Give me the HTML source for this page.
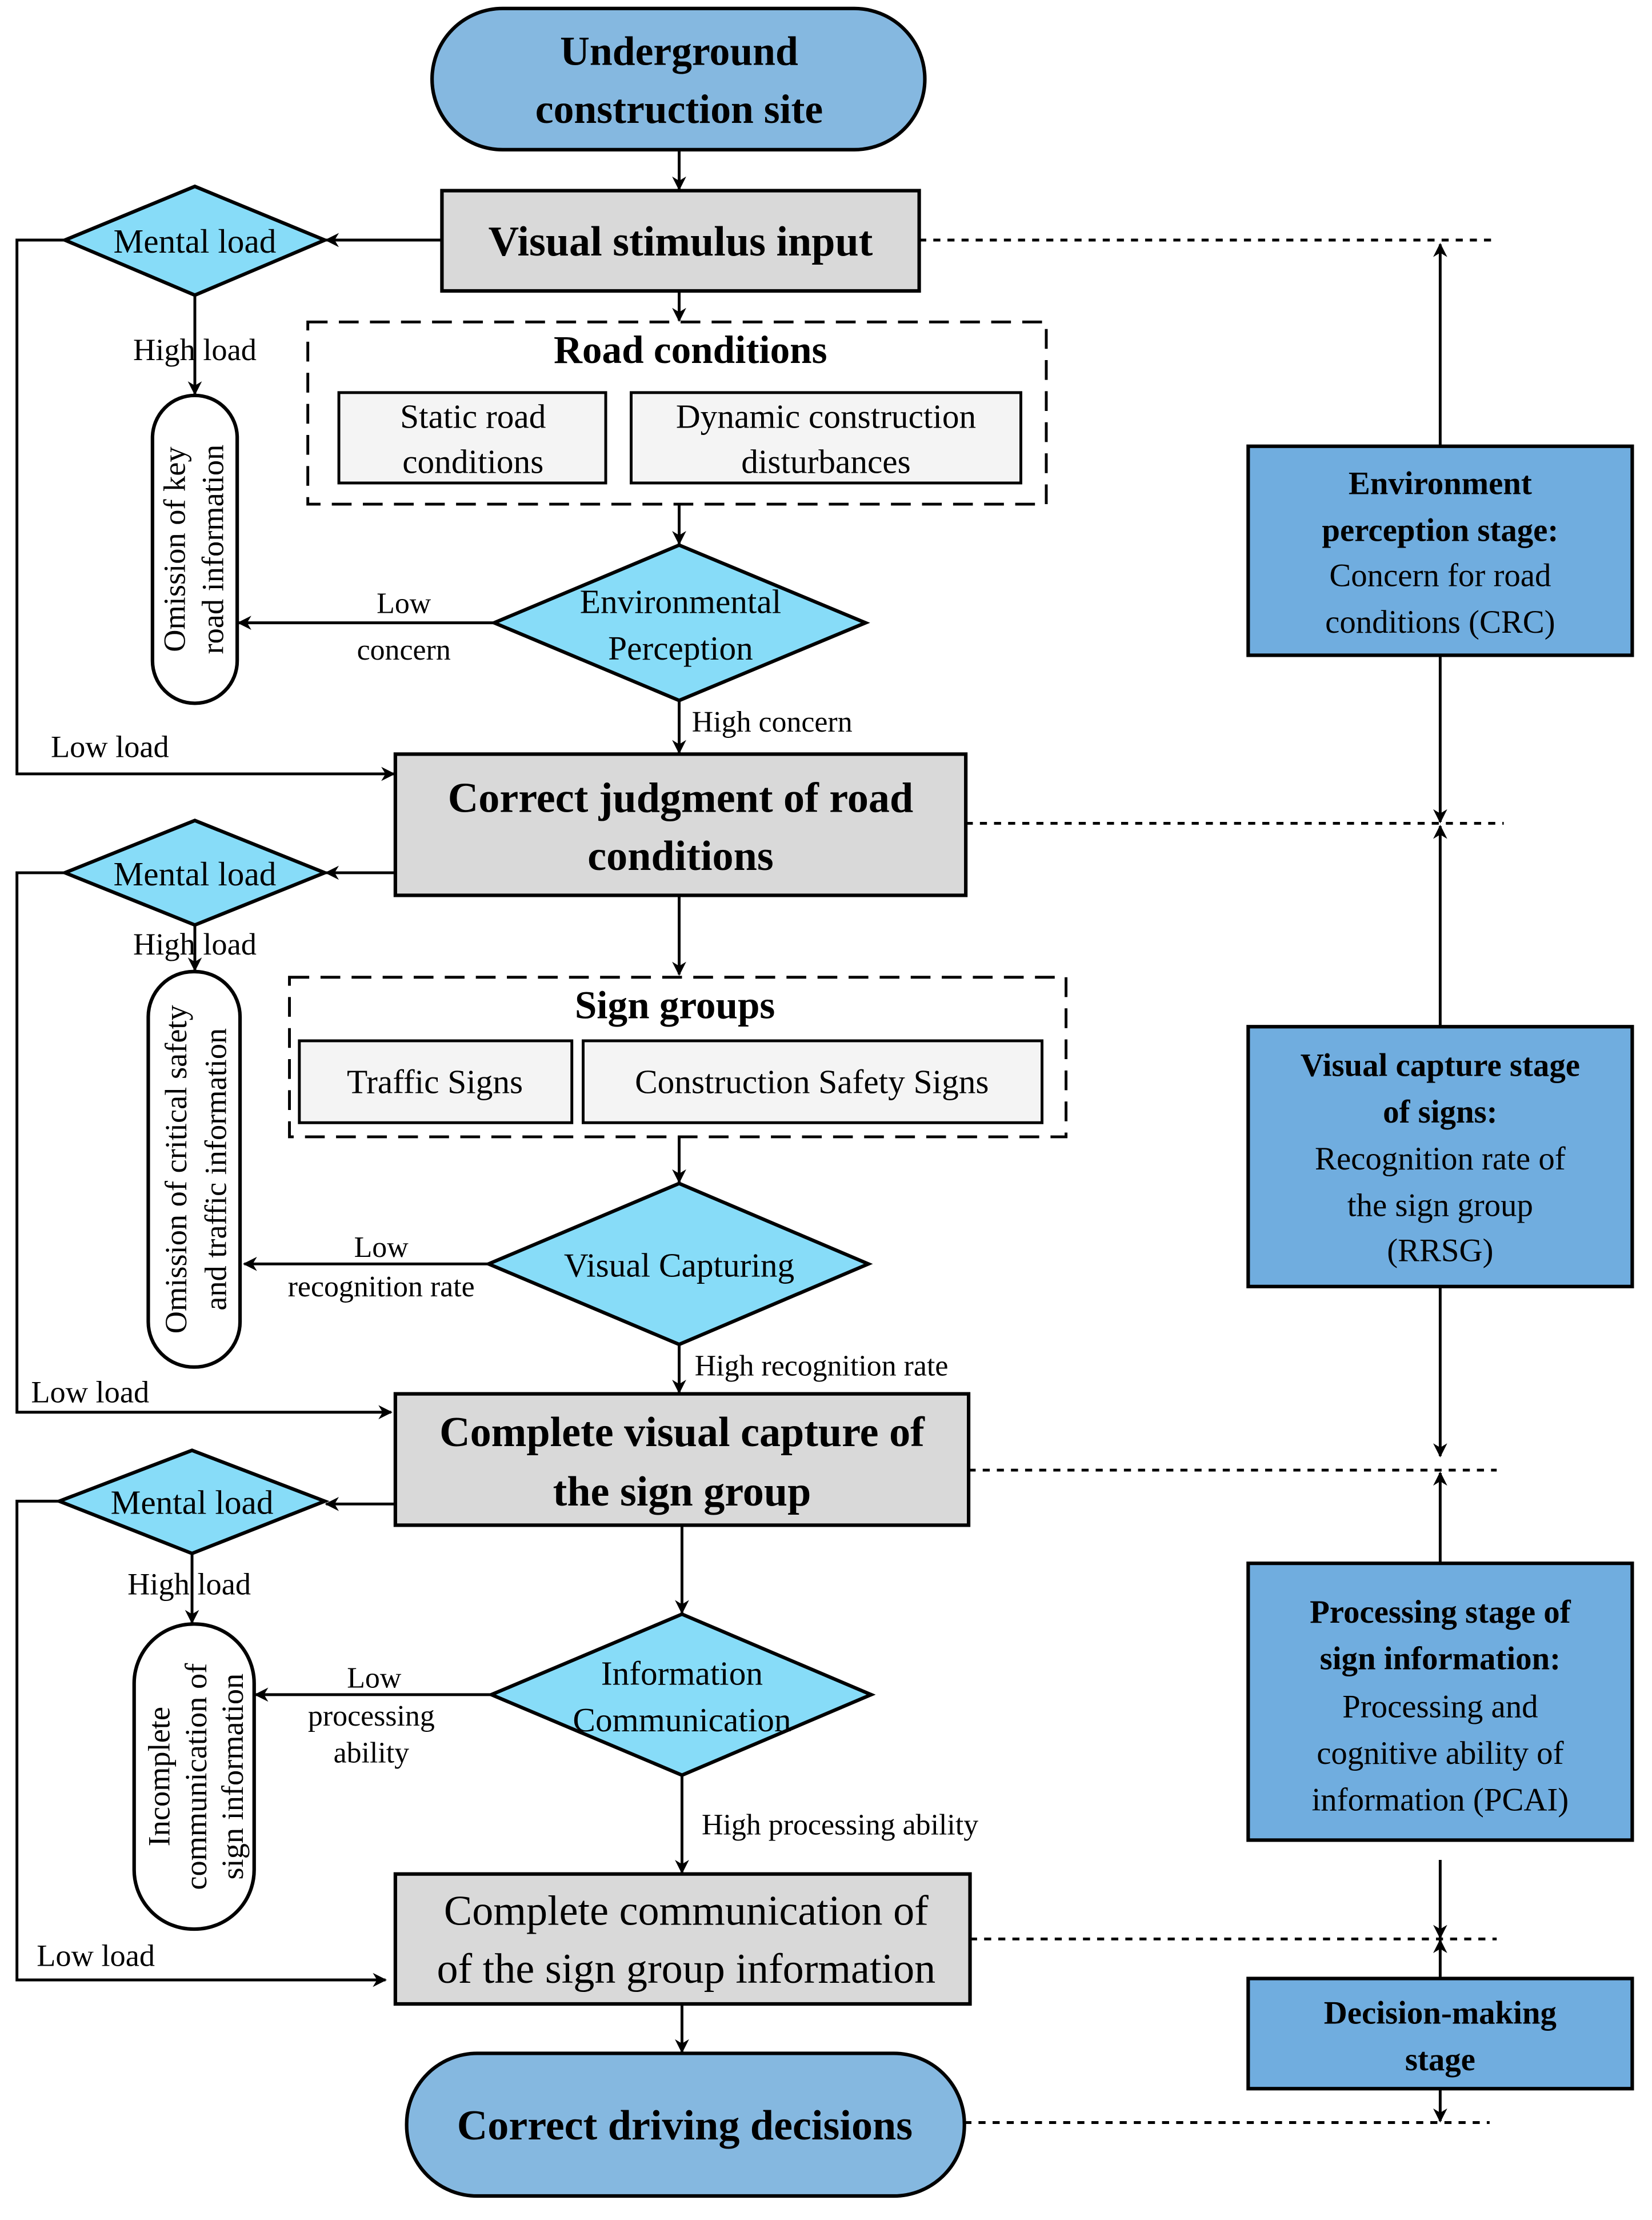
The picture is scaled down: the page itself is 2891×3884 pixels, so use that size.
<!DOCTYPE html>
<html><head><meta charset="utf-8"><style>
html,body{margin:0;padding:0;background:#fff}
svg{display:block}
text{font-family:"Liberation Serif",serif;fill:#000}
.b{font-weight:bold}
</style></head><body>
<svg width="2891" height="3884" viewBox="0 0 1170 1572" preserveAspectRatio="none" xmlns="http://www.w3.org/2000/svg">
<defs><marker id="a" markerWidth="10" markerHeight="10" refX="9" refY="5" orient="auto" markerUnits="userSpaceOnUse"><path d="M0,0 L10,5 L0,10 L3,5 Z" fill="#000"/></marker></defs>
<g stroke="#000" stroke-width="2" fill="none">
<!-- main vertical arrows -->
<line x1="481" y1="106" x2="481" y2="134" marker-end="url(#a)"/>
<line x1="481" y1="206" x2="481" y2="227" marker-end="url(#a)"/>
<line x1="481" y1="357" x2="481" y2="385" marker-end="url(#a)"/>
<line x1="481" y1="496" x2="481" y2="533" marker-end="url(#a)"/>
<line x1="481" y1="634" x2="481" y2="690" marker-end="url(#a)"/>
<line x1="481" y1="805" x2="481" y2="837" marker-end="url(#a)"/>
<line x1="481" y1="952" x2="481" y2="986" marker-end="url(#a)"/>
<line x1="483" y1="1080" x2="483" y2="1142" marker-end="url(#a)"/>
<line x1="483" y1="1257" x2="483" y2="1326" marker-end="url(#a)"/>
<line x1="483" y1="1419" x2="483" y2="1453" marker-end="url(#a)"/>
<!-- mental load 1 -->
<line x1="313" y1="170" x2="231" y2="170" marker-end="url(#a)"/>
<polyline points="46,170 12,170 12,548 279,548" marker-end="url(#a)"/>
<line x1="138" y1="209" x2="138" y2="279" marker-end="url(#a)"/>
<line x1="350" y1="441" x2="169" y2="441" marker-end="url(#a)"/>
<!-- mental load 2 -->
<line x1="280" y1="618" x2="231" y2="618" marker-end="url(#a)"/>
<polyline points="46,618 12,618 12,1000 277,1000" marker-end="url(#a)"/>
<line x1="138" y1="655" x2="138" y2="687" marker-end="url(#a)"/>
<line x1="346" y1="895" x2="173" y2="895" marker-end="url(#a)"/>
<!-- mental load 3 -->
<line x1="280" y1="1065" x2="231" y2="1065" marker-end="url(#a)"/>
<polyline points="42,1063 12,1063 12,1402 273,1402" marker-end="url(#a)"/>
<line x1="136" y1="1100" x2="136" y2="1149" marker-end="url(#a)"/>
<line x1="348" y1="1200" x2="181" y2="1200" marker-end="url(#a)"/>
<!-- dotted -->
<g stroke-dasharray="5,5">
<line x1="651" y1="170" x2="1060" y2="170"/>
<line x1="684" y1="583" x2="1065" y2="583"/>
<line x1="686" y1="1041" x2="1060" y2="1041"/>
<line x1="687" y1="1373" x2="1060" y2="1373"/>
<line x1="683" y1="1503" x2="1055" y2="1503"/>
</g>
<!-- right column -->
<line x1="1020" y1="316" x2="1020" y2="173" marker-end="url(#a)"/>
<line x1="1020" y1="464" x2="1020" y2="582" marker-end="url(#a)"/>
<line x1="1020" y1="727" x2="1020" y2="585" marker-end="url(#a)"/>
<line x1="1020" y1="911" x2="1020" y2="1031" marker-end="url(#a)"/>
<line x1="1020" y1="1107" x2="1020" y2="1043" marker-end="url(#a)"/>
<line x1="1020" y1="1317" x2="1020" y2="1372" marker-end="url(#a)"/>
<line x1="1020" y1="1401" x2="1020" y2="1374" marker-end="url(#a)"/>
<line x1="1020" y1="1479" x2="1020" y2="1502" marker-end="url(#a)"/>
</g>
<g stroke="#000" stroke-width="2.5">
<rect x="306" y="6" width="349" height="100" rx="50" fill="#85b8e0"/>
<rect x="288" y="1454" width="395" height="101" rx="50" fill="#85b8e0"/>
<rect x="313" y="135" width="338" height="71" fill="#d9d9d9"/>
<rect x="280" y="534" width="404" height="100" fill="#d9d9d9"/>
<rect x="280" y="987" width="406" height="93" fill="#d9d9d9"/>
<rect x="280" y="1327" width="407" height="92" fill="#d9d9d9"/>
<polygon points="46,170 138,132 230,170 138,209" fill="#87dcf8"/>
<polygon points="46,618 138,581 230,618 138,655" fill="#87dcf8"/>
<polygon points="42,1063 136,1027 230,1063 136,1100" fill="#87dcf8"/>
<polygon points="350,441 481,386 613,441 481,496" fill="#87dcf8"/>
<polygon points="346,895 481,838 615,895 481,952" fill="#87dcf8"/>
<polygon points="348,1200 483,1143 617,1200 483,1257" fill="#87dcf8"/>
<rect x="108" y="280" width="60" height="218" rx="30" fill="#fff"/>
<rect x="105" y="688" width="65" height="280" rx="32" fill="#fff"/>
<rect x="95" y="1150" width="85" height="216" rx="42" fill="#fff"/>
<rect x="884" y="316" width="272" height="148" fill="#70addf"/>
<rect x="884" y="727" width="272" height="184" fill="#70addf"/>
<rect x="884" y="1107" width="272" height="196" fill="#70addf"/>
<rect x="884" y="1401" width="272" height="78" fill="#70addf"/>
</g>
<g stroke="#000" stroke-width="2" fill="#f4f4f4">
<rect x="218" y="228" width="523" height="129" fill="none" stroke-dasharray="14,8"/>
<rect x="240" y="278" width="189" height="64"/>
<rect x="447" y="278" width="276" height="64"/>
<rect x="205" y="692" width="550" height="113" fill="none" stroke-dasharray="14,8"/>
<rect x="212" y="737" width="193" height="58"/>
<rect x="413" y="737" width="325" height="58"/>
</g>
<g text-anchor="middle">
<text class="b" x="481" y="46" font-size="29">Underground</text>
<text class="b" x="481" y="87" font-size="29">construction site</text>
<text class="b" x="482" y="181" font-size="30">Visual stimulus input</text>
<text class="b" x="489" y="257" font-size="28">Road conditions</text>
<text x="335" y="303" font-size="24">Static road</text>
<text x="335" y="335" font-size="24">conditions</text>
<text x="585" y="303" font-size="24">Dynamic construction</text>
<text x="585" y="335" font-size="24">disturbances</text>
<text x="482" y="434" font-size="24">Environmental</text>
<text x="482" y="467" font-size="24">Perception</text>
<text x="482" y="575" font-size="30" class="b">Correct judgment of road</text>
<text x="482" y="616" font-size="30" class="b">conditions</text>
<text class="b" x="478" y="721" font-size="28">Sign groups</text>
<text x="308" y="774" font-size="24">Traffic Signs</text>
<text x="575" y="774" font-size="24">Construction Safety Signs</text>
<text x="481" y="904" font-size="24">Visual Capturing</text>
<text class="b" x="483" y="1024" font-size="30">Complete visual capture of</text>
<text class="b" x="483" y="1066" font-size="30">the sign group</text>
<text x="483" y="1193" font-size="24">Information</text>
<text x="483" y="1226" font-size="24">Communication</text>
<text x="486" y="1363" font-size="30">Complete communication of</text>
<text x="486" y="1404" font-size="30">of the sign group information</text>
<text class="b" x="485" y="1515" font-size="30">Correct driving decisions</text>
<text x="138" y="179" font-size="24">Mental  load</text>
<text x="138" y="627" font-size="24">Mental  load</text>
<text x="136" y="1072" font-size="24">Mental  load</text>
<text x="138" y="255" font-size="22">High load</text>
<text x="138" y="676" font-size="22">High load</text>
<text x="134" y="1129" font-size="22">High load</text>
<text x="286" y="434" font-size="21">Low</text>
<text x="286" y="467" font-size="21">concern</text>
<text x="270" y="890" font-size="21">Low</text>
<text x="270" y="918" font-size="21">recognition rate</text>
<text x="265" y="1195" font-size="21">Low</text>
<text x="263" y="1222" font-size="21">processing</text>
<text x="263" y="1248" font-size="21">ability</text>
<text class="b" x="1020" y="350" font-size="23">Environment</text>
<text class="b" x="1020" y="383" font-size="23">perception stage:</text>
<text x="1020" y="415" font-size="23">Concern for road</text>
<text x="1020" y="448" font-size="23">conditions (CRC)</text>
<text class="b" x="1020" y="762" font-size="23">Visual capture stage</text>
<text class="b" x="1020" y="795" font-size="23">of signs:</text>
<text x="1020" y="828" font-size="23">Recognition rate of</text>
<text x="1020" y="861" font-size="23">the sign group</text>
<text x="1020" y="893" font-size="23">(RRSG)</text>
<text class="b" x="1020" y="1149" font-size="23">Processing stage of</text>
<text class="b" x="1020" y="1182" font-size="23">sign information:</text>
<text x="1020" y="1216" font-size="23">Processing and</text>
<text x="1020" y="1249" font-size="23">cognitive ability of</text>
<text x="1020" y="1282" font-size="23">information (PCAI)</text>
<text class="b" x="1020" y="1433" font-size="23">Decision-making</text>
<text class="b" x="1020" y="1466" font-size="23">stage</text>
<g font-size="22">
<text transform="translate(131,389) rotate(-90)">Omission of key</text>
<text transform="translate(158,389) rotate(-90)">road information</text>
<text transform="translate(132,828) rotate(-90)">Omission of critical safety</text>
<text transform="translate(160,828) rotate(-90)">and traffic information</text>
<text transform="translate(120,1258) rotate(-90)">Incomplete</text>
<text transform="translate(146,1258) rotate(-90)">communication of</text>
<text transform="translate(172,1258) rotate(-90)">sign information</text>
</g>
</g>
<g font-size="21">
<text x="490" y="518">High concern</text>
<text x="492" y="974">High recognition rate</text>
<text x="497" y="1299">High processing ability</text>
<text x="36" y="536" font-size="22">Low load</text>
<text x="22" y="993" font-size="22">Low load</text>
<text x="26" y="1392" font-size="22">Low load</text>
</g>
</svg>
</body></html>
